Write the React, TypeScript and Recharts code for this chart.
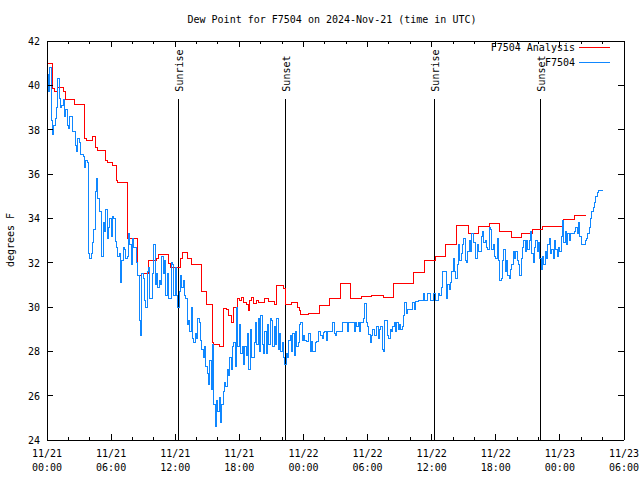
import React from 'react';
import { LineChart, Line, XAxis, YAxis, ReferenceLine } from 'recharts';

// Observed dew point (F7504), one reading every 0.125 h starting 11/21 00:00 UTC
const OBS_START_HOUR = 0;
const OBS_STEP_HOURS = 0.125;
const obsValues = [
  40.5, 39.7, 40.8, 38.4, 37.8, 38.2, 38.5, 39.0, 40.3, 39.4,
  39.0, 39.1, 39.35, 38.6, 38.9, 38.2, 38.05, 38.6, 38.6, 37.9,
  37.9, 37.3, 37.0, 37.6, 37.4, 36.9, 36.9, 36.8, 36.3, 36.6,
  36.5, 32.4, 32.2, 32.4, 32.9, 33.5, 35.2, 35.8, 34.9, 34.3,
  34.3, 32.3, 33.8, 33.4, 34.4, 33.1, 33.6, 34.0, 33.2, 34.1,
  34.0, 32.95, 32.7, 32.3, 32.4, 31.1, 32.1, 32.7, 32.6, 32.2,
  32.3, 33.3, 32.8, 31.9, 33.1, 32.7, 32.7, 32.0, 31.4, 29.4,
  28.7, 31.5, 31.3, 30.3, 30.0, 31.6, 31.8, 30.4, 30.4, 31.5,
  32.8, 31.0, 31.5, 30.9, 31.2, 31.0, 32.3, 31.5, 32.1, 30.5,
  31.5, 30.4, 30.4, 32.0, 31.9, 30.5, 31.8, 30.5, 30.0, 30.7,
  31.4, 30.9, 31.2, 30.5, 30.4, 29.2, 29.4, 28.9, 30.0, 28.6,
  28.4, 28.8, 28.6, 29.5, 29.3, 28.5, 28.1, 27.7, 28.2, 27.3,
  27.0, 26.5, 27.6, 26.3, 28.3, 25.6, 24.6, 25.8, 25.3, 25.9,
  24.8, 25.6, 26.2, 26.6, 26.4, 27.2, 26.9, 27.7, 27.2, 28.2,
  28.4, 27.3, 30.0, 28.2, 29.2, 27.9, 28.2, 27.4, 28.2, 27.8,
  28.8, 27.2, 29.0, 27.7, 27.7, 28.4, 29.3, 28.3, 29.5, 28.0,
  29.6, 28.3, 27.9, 28.9, 27.9, 29.2, 28.3, 29.5, 29.4, 28.2,
  29.1, 28.3, 29.5, 28.1, 28.8, 28.0, 28.4, 27.7, 27.4, 27.9,
  27.7, 28.5, 28.7, 28.0, 28.8, 27.8, 28.9, 28.2, 28.4, 29.2,
  29.3, 28.5, 28.7, 28.5, 28.45, 28.45, 28.8, 28.0, 28.45, 28.0,
  28.0, 28.4, 28.45, 28.9, 28.9, 28.7, 28.6, 28.85, 28.9, 28.5,
  28.9, 28.9, 28.9, 28.9, 29.3, 28.8, 28.7, 28.9, 28.9, 28.9,
  28.9, 29.3, 29.3, 29.3, 29.3, 28.9, 29.3, 29.3, 29.3, 29.3,
  28.9, 29.3, 29.1, 29.3, 28.9, 29.3, 29.3, 29.5, 30.15, 29.3,
  29.1, 28.75, 28.4, 28.7, 29.0, 28.7, 28.7, 29.1, 28.6, 29.0,
  29.1, 28.1, 28.0, 29.4, 29.4, 28.7, 28.6, 29.0, 28.9, 29.1,
  29.3, 28.9, 29.3, 29.0, 29.2, 29.0, 29.1, 29.6, 30.2, 29.7,
  29.9, 29.9, 29.9, 29.9, 30.2, 29.9, 30.24, 30.24, 30.3, 30.3,
  30.3, 30.3, 30.6, 30.3, 30.3, 30.6, 30.6, 30.3, 30.3, 30.6,
  30.6, 30.3, 30.3, 30.6, 30.5, 30.9, 31.6, 31.6, 31.6, 30.4,
  31.0, 30.8, 31.1, 31.6, 32.2, 31.6, 31.3, 31.9, 32.8, 32.1,
  32.4, 32.8, 33.1, 32.1, 32.0, 32.5, 33.0, 32.5, 33.3, 32.9,
  32.9, 32.2, 32.8, 32.5, 32.5, 33.2, 33.4, 32.9, 33.0, 32.7,
  32.6, 33.6, 33.5, 32.6, 32.8, 32.3, 32.2, 33.1, 32.1, 31.2,
  31.3, 32.1, 32.6, 31.6, 32.1, 31.4, 31.3, 31.7, 31.9, 32.5,
  32.2, 32.5, 32.1, 31.9, 31.4, 32.2, 32.7, 33.0, 32.5, 33.0,
  32.6, 33.0, 33.4, 32.4, 32.0, 32.7, 33.0, 32.5, 32.9, 32.2,
  31.7, 32.3, 31.9, 32.5, 32.2, 32.8, 33.1, 32.4, 32.6, 32.2,
  33.0, 32.6, 32.3, 32.7, 32.5, 33.2, 33.9, 32.9, 33.4, 32.8,
  33.3, 33.0, 33.3, 33.3, 33.3, 33.4, 33.6, 33.3, 33.8, 33.2,
  32.8, 32.8, 32.8, 33.0, 33.1, 33.3, 33.6, 34.0, 34.3, 34.5,
  34.7, 35.0, 35.15, 35.25, 35.25, 35.25, 35.25,
];

// Analysis (step changes): hour since 11/21 00:00 UTC and value
const anaHours = [
  0, 0.51, 0.72, 0.96, 1.59, 1.75, 2.53, 3.53, 3.65, 4.24,
  4.55, 4.71, 5.49, 5.64, 6.11, 6.52, 6.64, 7.51, 8.45, 8.89,
  9.54, 10.29, 10.48, 11.35, 11.6, 12.54, 12.72, 13.19, 13.56, 14.5,
  14.94, 15.46, 15.62, 16.18, 16.49, 16.81, 16.96, 17.28, 17.49, 17.8,
  18.05, 18.21, 18.36, 18.68, 18.83, 18.93, 19.15, 19.36, 19.62, 19.77,
  20.39, 20.7, 21.33, 21.49, 22.1, 22.36, 22.92, 23.43, 23.67, 23.76,
  24.51, 25.47, 26.47, 27.47, 28.41, 29.44, 30.4, 31.46, 32.46, 34.33,
  35.36, 36.39, 37.32, 38.33, 39.41, 40.41, 41.44, 42.38, 43.47, 44.41,
  45.44, 46.37, 48.36, 49.39, 50.42,
];
const anaValues = [
  41.0, 39.85, 39.7, 39.9, 39.7, 39.35, 39.15, 37.6, 37.5, 37.7,
  37.2, 37.08, 36.6, 36.5, 36.4, 35.7, 35.6, 33.1, 31.4, 31.5,
  32.1, 32.2, 32.35, 31.95, 31.8, 32.2, 32.45, 32.2, 31.9, 30.7,
  30.1, 28.4, 28.3, 28.2, 29.95, 29.9, 29.6, 29.3, 30.0, 30.4,
  30.3, 30.45, 30.2, 30.1, 29.85, 30.3, 30.45, 30.15, 30.3, 30.2,
  30.4, 30.25, 30.1, 30.95, 30.85, 30.1, 30.2, 30.0, 29.85, 29.65,
  29.7, 30.05, 30.4, 31.05, 30.38, 30.46, 30.52, 30.42, 31.07, 31.55,
  32.08, 32.28, 32.8, 33.67, 33.3, 33.63, 33.78, 33.42, 33.14, 33.3,
  33.5, 33.63, 33.95, 34.15, 34.15,
];

const sunHours = [12.28, 22.3, 36.23, 46.15];
const sunLabels = ['Sunrise', 'Sunset', 'Sunrise', 'Sunset'];

const xTickHours = [
  0, 2, 4, 6, 8, 10, 12, 14, 16, 18, 20, 22, 24, 26,
  28, 30, 32, 34, 36, 38, 40, 42, 44, 46, 48, 50, 52, 54,
];
const xDateLabels = ['11/21', '11/21', '11/21', '11/21', '11/22', '11/22', '11/22', '11/22', '11/23', '11/23'];
const xTimeLabels = ['00:00', '06:00', '12:00', '18:00', '00:00', '06:00', '12:00', '18:00', '00:00', '06:00'];
const yTicks = [24, 26, 28, 30, 32, 34, 36, 38, 40, 42];

const TITLE = 'Dew Point for F7504 on 2024-Nov-21 (time in UTC)';
const Y_LABEL = 'degrees F';
const SERIES_ANALYSIS = 'F7504 Analysis';
const SERIES_OBS = 'F7504';

const RED = '#ff0000';
const BLUE = '#0f87ff';
const FONT = '"DejaVu Sans Mono", "Liberation Mono", monospace';

const obsData = obsValues.map((v, i) => ({ h: OBS_START_HOUR + i * OBS_STEP_HOURS, v }));
const anaData = anaHours.map((h, i) => ({ h, v: anaValues[i] }));

const BottomTick = (props: any) => {
  const { x, y, payload } = props;
  const h = payload.value;
  const major = h % 6 === 0;
  const idx = h / 6;
  return (
    <g>
      <line x1={x} x2={x} y1={y} y2={y - (major ? 6 : 3)} stroke="#000" shapeRendering="crispEdges" />
      {major && (
        <text x={x} y={y + 17} textAnchor="middle" fontSize={10} fontFamily={FONT} fill="#000">
          {xDateLabels[idx]}
        </text>
      )}
      {major && (
        <text x={x} y={y + 31} textAnchor="middle" fontSize={10} fontFamily={FONT} fill="#000">
          {xTimeLabels[idx]}
        </text>
      )}
    </g>
  );
};

const TopTick = (props: any) => {
  const { x, y, payload } = props;
  const major = payload.value % 6 === 0;
  return <line x1={x} x2={x} y1={y} y2={y + (major ? 6 : 3)} stroke="#000" shapeRendering="crispEdges" />;
};

const LeftTick = (props: any) => {
  const { x, y, payload } = props;
  return (
    <g>
      <line x1={x} x2={x + 6} y1={y} y2={y} stroke="#000" shapeRendering="crispEdges" />
      <text x={x - 7} y={y + 4} textAnchor="end" fontSize={10} fontFamily={FONT} fill="#000">
        {payload.value}
      </text>
    </g>
  );
};

const RightTick = (props: any) => {
  const { x, y } = props;
  return <line x1={x} x2={x - 6} y1={y} y2={y} stroke="#000" shapeRendering="crispEdges" />;
};

const sunLabel = (text: string) => (props: any) => {
  const vb = props.viewBox || {};
  const x = (vb.x ?? 0) + 1;
  const y = (vb.y ?? 0) - 7;
  return (
    <text
      x={x}
      y={y}
      transform={`rotate(-90 ${x} ${y})`}
      textAnchor="start"
      dominantBaseline="central"
      fontSize={10}
      fontFamily={FONT}
      fill="#000"
    >
      {text}
    </text>
  );
};

export default function App() {
  return (
    <div style={{ position: 'absolute', left: 0, top: 0, width: 640, height: 480, background: '#fff' }}>
      <LineChart width={640} height={480} margin={{ top: 0, right: 0, bottom: 0, left: 0 }}>
        <XAxis
          dataKey="h"
          type="number"
          domain={[0, 54]}
          ticks={xTickHours}
          interval={0}
          height={40}
          tickSize={0}
          tickMargin={0}
          tickLine={false}
          tick={<BottomTick />}
          axisLine={{ stroke: '#000', shapeRendering: 'crispEdges' }}
          allowDataOverflow
        />
        <XAxis
          xAxisId="top"
          orientation="top"
          dataKey="h"
          type="number"
          domain={[0, 54]}
          ticks={xTickHours}
          interval={0}
          height={41}
          tickSize={0}
          tickMargin={0}
          tickLine={false}
          tick={<TopTick />}
          axisLine={{ stroke: '#000', shapeRendering: 'crispEdges' }}
          allowDataOverflow
        />
        <YAxis
          type="number"
          domain={[24, 42]}
          ticks={yTicks}
          interval={0}
          width={47}
          tickSize={0}
          tickMargin={0}
          tickLine={false}
          tick={<LeftTick />}
          axisLine={{ stroke: '#000', shapeRendering: 'crispEdges' }}
          allowDataOverflow
        />
        <YAxis
          yAxisId="right"
          orientation="right"
          type="number"
          domain={[24, 42]}
          ticks={yTicks}
          interval={0}
          width={16}
          tickSize={0}
          tickMargin={0}
          tickLine={false}
          tick={<RightTick />}
          axisLine={{ stroke: '#000', shapeRendering: 'crispEdges' }}
          allowDataOverflow
        />
        {sunHours.map((h, i) => (
          <ReferenceLine
            key={i}
            segment={[{ x: h, y: 24 }, { x: h, y: 39.4 }]}
            stroke="#000"
            strokeWidth={1}
            shapeRendering="crispEdges"
            label={sunLabel(sunLabels[i])}
          />
        ))}
        <Line
          data={anaData}
          dataKey="v"
          type="stepAfter"
          stroke={RED}
          strokeWidth={1}
          shapeRendering="crispEdges"
          dot={false}
          activeDot={false}
          isAnimationActive={false}
          name={SERIES_ANALYSIS}
        />
        <Line
          data={obsData}
          dataKey="v"
          type="stepAfter"
          stroke={BLUE}
          strokeWidth={1}
          shapeRendering="crispEdges"
          dot={false}
          activeDot={false}
          isAnimationActive={false}
          name={SERIES_OBS}
        />
      </LineChart>
      <svg
        width={640}
        height={480}
        style={{ position: 'absolute', left: 0, top: 0, pointerEvents: 'none' }}
      >
        <text x={332} y={23} textAnchor="middle" fontSize={10} fontFamily={FONT} fill="#000">
          {TITLE}
        </text>
        <text
          x={14}
          y={240}
          transform="rotate(-90 14 240)"
          textAnchor="middle"
          fontSize={10}
          fontFamily={FONT}
          fill="#000"
        >
          {Y_LABEL}
        </text>
        <text x={575} y={51} textAnchor="end" fontSize={10} fontFamily={FONT} fill="#000">
          {SERIES_ANALYSIS}
        </text>
        <line x1={579} x2={610} y1={47.5} y2={47.5} stroke={RED} strokeWidth={1} />
        <text x={575} y={66} textAnchor="end" fontSize={10} fontFamily={FONT} fill="#000">
          {SERIES_OBS}
        </text>
        <line x1={579} x2={610} y1={62.5} y2={62.5} stroke={BLUE} strokeWidth={1} />
      </svg>
    </div>
  );
}
